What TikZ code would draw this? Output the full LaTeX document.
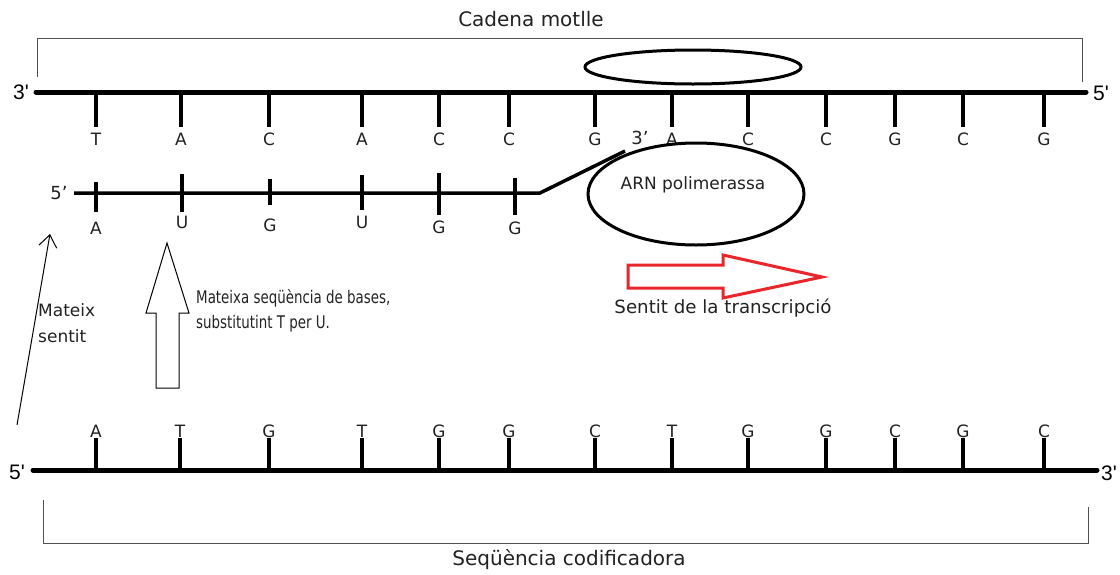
\documentclass[tikz,border=0pt]{standalone}
\usepackage{fontspec}
\setmainfont{DejaVu Sans}
\newfontfamily\arialf{Liberation Sans}[Ligatures=TeXOff]
\usetikzlibrary{arrows.meta,shapes.geometric}
\definecolor{arrred}{HTML}{E8262B}
\definecolor{brk}{HTML}{505050}
\definecolor{txt}{HTML}{222222}
\begin{document}
\begin{tikzpicture}[x=1pt,y=-1pt,
  strand/.style={line width=5pt,line cap=round},
  tickline/.style={line width=3.2pt},
  rnaline/.style={line width=3.5pt},
  bracketline/.style={line width=1pt,draw=brk},
  base/.style={font=\fontsize{17}{17}\selectfont,inner sep=0pt,text=txt},
  endlbl/.style={font=\arialf\fontsize{21}{21}\selectfont,inner sep=0pt},
  caption/.style={font=\fontsize{20}{20}\selectfont,inner sep=0pt,text=txt},
  note/.style={font=\fontsize{17}{26}\selectfont,inner sep=0pt,align=left,text=txt},
  ellshape/.style={ellipse,draw,line width=3pt,inner sep=0pt},
]
\useasboundingbox[fill=white] (0,0) rectangle (1120,574);

% ---- top (template) strand ----
\coordinate (tsL) at (36,92);
\coordinate (tsR) at (1086,92);
\draw[strand] (tsL) -- (tsR);
\node[endlbl] (t3) at (21,92) {3'};
\node[endlbl] (t5) at (1101,93) {5'};
\foreach \x/\b [count=\i] in {96/T,181/A,269/C,362/A,439/C,509/C,595/G,672/A,748/C,826/C,895/G,963/C,1044/G}{
  \coordinate (tb\i) at (\x,92);
  \coordinate (te\i) at (\x,127);
  \draw[tickline] (tb\i) -- (te\i);
  \node[base] (tl\i) at (\x,139) {\b};
}
% top bracket
\coordinate (tbr1) at (37,77);
\coordinate (tbr2) at (37,38);
\coordinate (tbr3) at (1082,38);
\coordinate (tbr4) at (1082,82);
\draw[bracketline] (tbr1) -- (tbr2) -- (tbr3) -- (tbr4);
\node[caption] (cadena) at (531,19) {Cadena motlle};
% small ellipse
\node[ellshape,minimum width=216pt,minimum height=34pt] (topell) at (693,67) {};

% ---- RNA strand ----
\coordinate (rL) at (74,193);
\coordinate (rR) at (540,193);
\coordinate (rK) at (625,151);
\draw[rnaline] (rL) -- (rR) -- (rK);
\node[base,font=\fontsize{18}{18}\selectfont] (r5) at (59,193) {5’};
\node[base,font=\fontsize{18}{18}\selectfont] (r3) at (640,138) {3’};
\foreach \x/\ya/\yb/\yl/\b [count=\i] in {96/182/212/228/A,182/174/212/222/U,270/179/205/225/G,362/175/210/222/U,439/173/215/227/G,515/178/215/228/G}{
  \coordinate (ra\i) at (\x,\ya);
  \coordinate (rb\i) at (\x,\yb);
  \draw[rnaline] (ra\i) -- (rb\i);
  \node[base] (rl\i) at (\x,\yl) {\b};
}
% polymerase
\node[ellshape,minimum width=216pt,minimum height=102pt] (pol) at (696,194) {};
\node[base] (poltxt) at (693,185) {ARN polimerassa};

% red arrow
\draw[arrred,line width=3pt,line join=miter]
  (628,265) -- (723,265) -- (723,255) -- (822,277) -- (723,298) -- (723,288) -- (628,288) -- cycle;
\node[base,font=\fontsize{18.2}{18.2}\selectfont] (sentit) at (723,308) {Sentit de la transcripció};

% white up arrow
\draw[line width=1pt,fill=white]
  (156,388) -- (156,313) -- (146,313) -- (167,243) -- (189,313) -- (179,313) -- (179,388) -- cycle;
\node[note,anchor=west,font=\fontsize{13.4}{13.4}\selectfont] (mseq1) at (196,298)
  {\scalebox{1}[1.3]{Mateixa seqüència de bases,}};
\node[note,anchor=west,font=\fontsize{13.4}{13.4}\selectfont] (mseq2) at (196,324)
  {\scalebox{1}[1.3]{substitutint T per U.}};

% thin arrow
\coordinate (thinA) at (17,425);
\coordinate (thinB) at (50,234);
\draw[line width=1pt,-{Straight Barb[length=12pt,width=18pt]}] (thinA) -- (thinB);
\node[note,anchor=west] (msent) at (38,323) {Mateix\\sentit};

% ---- bottom (coding) strand ----
\coordinate (bsL) at (33,470);
\coordinate (bsR) at (1097,470);
\draw[strand] (bsL) -- (bsR);
\node[endlbl] (b5) at (17,472) {5'};
\node[endlbl] (b3) at (1109,473) {3'};
\foreach \x/\b [count=\i] in {96/A,180/T,269/G,362/T,439/G,509/G,595/C,672/T,748/G,826/G,895/C,963/G,1044/C}{
  \coordinate (bb\i) at (\x,470);
  \coordinate (be\i) at (\x,438);
  \draw[tickline] (bb\i) -- (be\i);
  \node[base] (bl\i) at (\x,431) {\b};
}
% bottom bracket
\coordinate (bbr1) at (43,500);
\coordinate (bbr2) at (43,543);
\coordinate (bbr3) at (1088,543);
\coordinate (bbr4) at (1088,507);
\draw[bracketline] (bbr1) -- (bbr2) -- (bbr3) -- (bbr4);
\node[caption] (codif) at (569,560) {Seqüència codificadora};
\end{tikzpicture}
\end{document}
